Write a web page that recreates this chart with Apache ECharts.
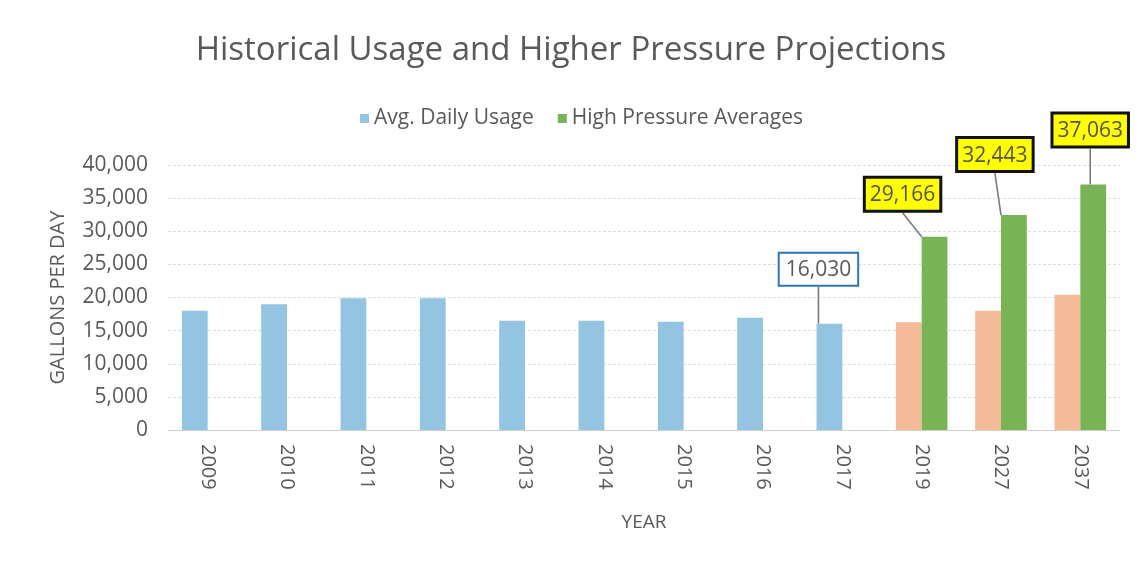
<!DOCTYPE html>
<html>
<head>
<meta charset="utf-8">
<script src="https://cdn.jsdelivr.net/npm/echarts@6/dist/echarts.min.js"></script>
<style>html,body{margin:0;padding:0;background:#fff}#c{width:1142px;height:563px}</style>
</head>
<body>
<div id="c"></div>
<script>
const categories = ['2009','2010','2011','2012','2013','2014','2015','2016','2017','2019','2027','2037'];
const avgDailyUsage = [18000, 19000, 19900, 19900, 16500, 16500, 16350, 16950, 16030, 16250, 18000, 20400];
const highPressureAverages = [null, null, null, null, null, null, null, null, null, 29166, 32443, 37063];
const yTicks = [0, 5000, 10000, 15000, 20000, 25000, 30000, 35000, 40000];

const FONT = '"Open Sans"';
const GRAY = '#595959';
const BLUE = '#93c4e2';
const ORANGE = '#f4bb98';
const GREEN = '#78b456';

const fmt = v => v.toLocaleString('en-US');

// label box shifts (dx, dy) relative to the default "top" label position
const usageShift = { 8: [-11, -34] };
const hpShift = { 9: [-32, -22], 10: [-19, -40], 11: [-3, -34] };

const grayLine = { show: true, lineStyle: { color: '#7a7a7a', width: 1.6 } };

const usageData = avgDailyUsage.map((v, i) => {
  const d = { value: v };
  if (i >= 9) d.itemStyle = { color: ORANGE };
  if (usageShift[i]) {
    d.label = {
      show: true, position: 'top',
      formatter: p => fmt(p.value),
      backgroundColor: '#fff', borderColor: '#2e75b6', borderWidth: 2,
      padding: [6, 6, 4, 6], color: GRAY, fontSize: 21, fontFamily: FONT
    };
    d.labelLine = grayLine;
  }
  return d;
});
const hpData = highPressureAverages.map((v, i) => {
  if (v == null) return null;
  return {
    value: v,
    label: {
      show: true, position: 'top',
      formatter: p => fmt(p.value),
      backgroundColor: '#ffff00', borderColor: '#111', borderWidth: 3,
      padding: [6, 4, 4, 4], color: '#555', fontSize: 21, fontFamily: FONT
    },
    labelLine: grayLine
  };
});

const chart = echarts.init(document.getElementById('c'), null, { renderer: 'canvas' });
chart.setOption({
  animation: false,
  textStyle: { fontFamily: FONT },
  title: {
    text: 'Historical Usage and Higher Pressure Projections',
    left: 'center', top: 29,
    textStyle: { fontFamily: FONT, fontSize: 33, fontWeight: 'normal', color: GRAY }
  },
  legend: {
    top: 103, left: 355, itemWidth: 9, itemHeight: 9, itemGap: 24,
    icon: 'rect',
    textStyle: { fontFamily: FONT, fontSize: 21, color: GRAY },
    data: [
      { name: 'Avg. Daily Usage', itemStyle: { color: BLUE } },
      { name: 'High Pressure Averages', itemStyle: { color: GREEN } }
    ]
  },
  grid: { left: 168, right: 22, top: 165, bottom: 133 },
  xAxis: {
    type: 'category', data: categories,
    name: 'YEAR', nameLocation: 'middle', nameGap: 83,
    nameTextStyle: { fontFamily: FONT, fontSize: 19, color: GRAY },
    axisLine: { lineStyle: { color: '#d0d0d0' } },
    axisTick: { show: false },
    axisLabel: { rotate: -90, color: GRAY, fontSize: 20, fontFamily: FONT, margin: 14 }
  },
  yAxis: {
    type: 'value', min: yTicks[0], max: yTicks[yTicks.length - 1], interval: yTicks[1] - yTicks[0],
    name: 'GALLONS PER DAY', nameLocation: 'middle', nameGap: 100,
    nameTextStyle: { fontFamily: FONT, fontSize: 20, color: GRAY },
    axisLine: { show: false }, axisTick: { show: false },
    axisLabel: { color: GRAY, fontSize: 21, fontFamily: FONT, margin: 20, formatter: v => fmt(v) },
    splitLine: { lineStyle: { color: '#dcdcdc', type: [3, 2] } }
  },
  series: [
    {
      name: 'Avg. Daily Usage', type: 'bar', data: usageData,
      itemStyle: { color: BLUE }, barGap: '0%', barCategoryGap: '35%',
      labelLayout: p => {
        const s = usageShift[p.dataIndex];
        return s ? { dx: s[0], dy: s[1] } : {};
      }
    },
    {
      name: 'High Pressure Averages', type: 'bar', data: hpData,
      itemStyle: { color: GREEN }, barGap: '0%', barCategoryGap: '35%',
      labelLayout: p => {
        const s = hpShift[p.dataIndex];
        return s ? { dx: s[0], dy: s[1] } : {};
      }
    }
  ]
});
</script>
</body>
</html>
